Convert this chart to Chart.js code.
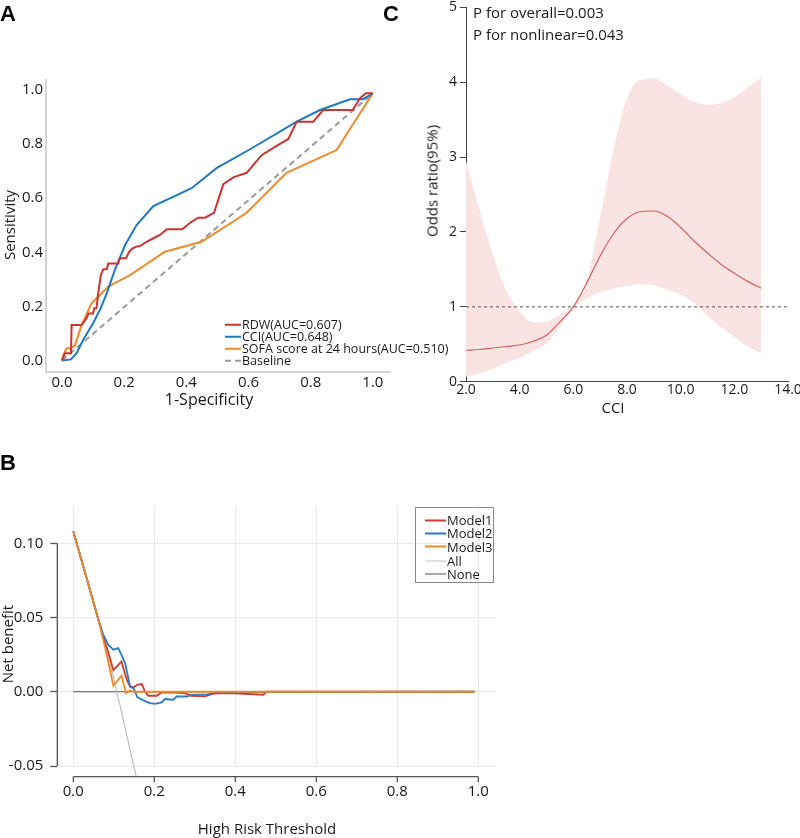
<!DOCTYPE html>
<html><head><meta charset="utf-8">
<script src="https://cdn.jsdelivr.net/npm/chart.js@4"></script>
<style>
html,body{margin:0;padding:0;background:#fff;}
body{width:800px;height:838px;overflow:hidden;position:relative;font-family:"Open Sans",sans-serif;color:#1a1a1a;}
canvas{position:absolute;}
.lbl{position:absolute;font:bold 22px "Liberation Sans",Arial,sans-serif;line-height:1;color:#000;}
.ct{position:absolute;white-space:nowrap;line-height:1;transform:translate(-50%,-50%);}
.cr{position:absolute;white-space:nowrap;line-height:1;transform:translate(-50%,-50%) rotate(-90deg);}
.lt{position:absolute;white-space:nowrap;line-height:1;transform:translate(0,-50%);}
.row{position:absolute;white-space:nowrap;line-height:1;transform:translate(0,-50%);display:flex;align-items:center;}
.row i{display:inline-block;height:0;margin-right:1px;}
#legB{position:absolute;left:415px;top:507px;width:79px;height:76px;border:1.5px solid #8a8a8a;box-sizing:border-box;}
</style></head><body>
<canvas id="cA" width="400" height="420" style="left:0;top:0"></canvas>
<canvas id="cC" width="420" height="424" style="left:390px;top:-4px"></canvas>
<canvas id="cB" width="520" height="398" style="left:0;top:440px"></canvas>

<div class="lbl" style="left:0;top:3px">A</div>
<div class="lbl" style="left:383px;top:3px">C</div>
<div class="lbl" style="left:0;top:452px">B</div>

<!-- Panel A titles and legend -->
<div class="cr" style="left:9px;top:225px;font-size:15px">Sensitivity</div>
<div class="ct" style="left:209px;top:398.5px;font-size:16px">1-Specificity</div>
<div class="row" style="left:225px;top:325px;font-size:12.5px"><i style="width:16px;border-top:2px solid #cc3430"></i>RDW(AUC=0.607)</div>
<div class="row" style="left:225px;top:337px;font-size:12.5px"><i style="width:16px;border-top:2px solid #2178c2"></i>CCI(AUC=0.648)</div>
<div class="row" style="left:225px;top:349px;font-size:12.5px"><i style="width:16px;border-top:2px solid #f0892a"></i>SOFA score at 24 hours(AUC=0.510)</div>
<div class="row" style="left:225px;top:361px;font-size:12.5px"><i style="width:16px;border-top:2px dashed #9a9a9a"></i>Baseline</div>

<!-- Panel C titles -->
<div class="lt" style="left:473px;top:11.6px;font-size:15px">P for overall=0.003</div>
<div class="lt" style="left:473px;top:34.2px;font-size:15px">P for nonlinear=0.043</div>
<div class="cr" style="left:432px;top:181px;font-size:15px">Odds ratio(95%)</div>
<div class="ct" style="left:613px;top:406.6px;font-size:15px">CCI</div>

<!-- Panel B titles and legend -->
<div class="cr" style="left:7px;top:644px;font-size:15px">Net benefit</div>
<div class="ct" style="left:267px;top:828px;font-size:15px">High Risk Threshold</div>
<div id="legB"></div>
<div class="row" style="left:425px;top:520px;font-size:13px"><i style="width:21px;border-top:2px solid #d03a35"></i>Model1</div>
<div class="row" style="left:425px;top:533.4px;font-size:13px"><i style="width:21px;border-top:2px solid #2a7bc3"></i>Model2</div>
<div class="row" style="left:425px;top:546.8px;font-size:13px"><i style="width:21px;border-top:2px solid #f0892a"></i>Model3</div>
<div class="row" style="left:425px;top:560.6px;font-size:13px"><i style="width:21px;border-top:1.5px solid #c8c8c8"></i>All</div>
<div class="row" style="left:425px;top:574.3px;font-size:13px"><i style="width:21px;border-top:1.5px solid #555"></i>None</div>

<script>
// ---------- Panel A: ROC ----------
const RDW_FPR = [0,0.01,0.029,0.031,0.063,0.079,0.085,0.10,0.104,0.111,0.117,0.125,0.133,0.144,0.149,0.181,0.186,0.206,0.216,0.227,0.24,0.251,0.272,0.294,0.315,0.337,0.387,0.412,0.438,0.46,0.489,0.519,0.551,0.594,0.642,0.685,0.728,0.755,0.808,0.84,0.935,0.958,0.977,1.0];
const RDW_TPR = [0,0.027,0.027,0.131,0.131,0.156,0.174,0.174,0.193,0.193,0.254,0.316,0.337,0.337,0.359,0.359,0.378,0.378,0.402,0.415,0.421,0.423,0.439,0.452,0.464,0.485,0.485,0.509,0.528,0.528,0.546,0.652,0.677,0.694,0.759,0.79,0.819,0.883,0.883,0.926,0.926,0.969,0.988,0.988];
const CCI_FPR = [0,0.029,0.047,0.068,0.10,0.122,0.144,0.17,0.203,0.24,0.294,0.417,0.497,0.605,0.755,0.83,0.926,0.969,1.0];
const CCI_TPR = [0,0.004,0.027,0.076,0.138,0.187,0.248,0.335,0.427,0.501,0.571,0.637,0.711,0.781,0.883,0.926,0.966,0.966,0.988];
const SOFA_FPR = [0,0.004,0.015,0.029,0.042,0.063,0.095,0.149,0.219,0.331,0.449,0.594,0.722,0.883,1.0];
const SOFA_TPR = [0,0.02,0.045,0.045,0.057,0.131,0.211,0.273,0.316,0.402,0.439,0.546,0.694,0.778,0.988];
const BASE_X = [0,1];
const BASE_Y = [0,0.988];
const A_TICKS = [0,0.2,0.4,0.6,0.8,1.0];

// ---------- Panel C: restricted cubic spline ----------
const CCI_X     = [2.0,2.5,3.0,3.5,4.0,4.5,5.0,5.5,6.0,6.5,7.0,7.5,8.0,8.5,9.0,9.5,10.0,10.5,11.0,11.5,12.0,12.5,13.0];
const CCI_OR    = [0.42,0.43,0.45,0.47,0.49,0.54,0.62,0.80,1.00,1.32,1.68,1.98,2.18,2.27,2.28,2.21,2.06,1.88,1.72,1.57,1.45,1.34,1.25];
const CCI_UPPER = [2.95,2.30,1.70,1.22,0.94,0.79,0.80,0.90,1.02,1.35,2.20,3.10,3.78,4.03,4.05,3.96,3.84,3.74,3.70,3.72,3.80,3.93,4.06];
const CCI_LOWER = [0.07,0.11,0.17,0.25,0.32,0.41,0.51,0.73,0.98,1.11,1.19,1.25,1.28,1.30,1.29,1.23,1.16,1.05,0.88,0.73,0.60,0.47,0.38];
const REF_X = [2,14];
const REF_Y = [1,1];
const C_X_TICKS = [2,4,6,8,10,12,14];

// ---------- Panel B: decision curve ----------
const M1_T  = [0,0.062,0.075,0.086,0.099,0.119,0.132,0.14,0.148,0.158,0.169,0.177,0.185,0.206,0.218,0.25,0.275,0.292,0.325,0.34,0.354,0.40,0.469,0.477,0.99];
const M1_NB = [0.108,0.0485,0.036,0.027,0.0145,0.0204,0.0081,0.0036,0.0029,0.0047,0.0052,0.0002,-0.0027,-0.0027,-0.0005,-0.0005,-0.0009,-0.0027,-0.0031,-0.0018,-0.0009,-0.0011,-0.002,0,0];
const M2_T  = [0,0.062,0.074,0.086,0.099,0.111,0.119,0.128,0.134,0.14,0.15,0.158,0.173,0.189,0.202,0.218,0.226,0.247,0.255,0.28,0.296,0.329,0.346,0.362,0.99];
const M2_NB = [0.108,0.0485,0.0384,0.0317,0.0283,0.0294,0.0249,0.0193,0.0115,0.0036,0.0018,-0.0036,-0.0058,-0.0076,-0.0081,-0.0072,-0.0049,-0.0054,-0.0032,-0.0032,-0.002,-0.002,-0.0009,-0.0003,0];
const M3_T  = [0,0.062,0.08,0.099,0.119,0.13,0.14,0.15,0.99];
const M3_NB = [0.108,0.0485,0.028,0.004,0.0108,-0.0009,0.0009,0,0];
const ALL_T  = [0,0.05,0.10,0.155];
const ALL_NB = [0.108,0.061,0.009,-0.0567];
const NONE_T  = [0,0.99];
const NONE_NB = [0,0];
const B_X_TICKS = [0,0.2,0.4,0.6,0.8,1.0];
const B_Y_TICKS = [-0.05,0,0.05,0.10];

const zip = (xs, ys) => xs.map((x, i) => ({x, y: ys[i]}));
const setTicks = arr => s => { s.ticks = arr.map(v => ({value: v})); };

Chart.defaults.font.family = "'Open Sans', sans-serif";
Chart.defaults.color = '#1a1a1a';
const common = {responsive:false, animation:false, events:[],
  plugins:{legend:{display:false}, tooltip:{enabled:false}}};

// Panel A
new Chart(document.getElementById('cA'), {
  type:'line',
  data:{datasets:[
    {data:zip(RDW_FPR,RDW_TPR), borderColor:'#cc3430', borderWidth:2, pointRadius:0, order:0},
    {data:zip(CCI_FPR,CCI_TPR), borderColor:'#2178c2', borderWidth:2, pointRadius:0, order:1},
    {data:zip(SOFA_FPR,SOFA_TPR), borderColor:'#f0892a', borderWidth:2, pointRadius:0, order:2},
    {data:zip(BASE_X,BASE_Y), borderColor:'#9a9a9a', borderDash:[6,4], borderWidth:2, pointRadius:0, order:3}
  ]},
  options:{...common,
    layout:{padding:{left:0,top:80,right:10,bottom:10}},
    scales:{
      x:{type:'linear', min:-0.0514, max:1.055, afterBuildTicks:setTicks(A_TICKS), afterFit:s=>{s.height=38;},
         grid:{display:false, drawTicks:false}, border:{display:true,color:'#d4d4d4',width:2},
         ticks:{font:{size:15}, padding:2, maxRotation:0, callback:v=>v.toFixed(1)}},
      y:{type:'linear', min:-0.0425, max:1.037, afterBuildTicks:setTicks(A_TICKS), afterFit:s=>{s.width=46;},
         grid:{display:false, drawTicks:false}, border:{display:true,color:'#d4d4d4',width:2},
         ticks:{font:{size:15}, padding:3, callback:v=>v.toFixed(1)}}
    }}
});

// Panel C
new Chart(document.getElementById('cC'), {
  type:'line',
  data:{datasets:[
    {data:zip(CCI_X,CCI_UPPER), borderWidth:0, borderColor:'rgba(0,0,0,0)', backgroundColor:'#f9e3e3', fill:'+1', pointRadius:0, cubicInterpolationMode:'monotone', order:3},
    {data:zip(CCI_X,CCI_LOWER), borderWidth:0, borderColor:'rgba(0,0,0,0)', fill:false, pointRadius:0, cubicInterpolationMode:'monotone', order:2},
    {data:zip(REF_X,REF_Y), borderColor:'#555', borderWidth:1, borderDash:[3,3], pointRadius:0, fill:false, order:1, clip:4},
    {data:zip(CCI_X,CCI_OR), borderColor:'#d2605a', borderWidth:1.2, pointRadius:0, fill:false, cubicInterpolationMode:'monotone', order:0}
  ]},
  options:{...common,
    layout:{padding:{left:0,top:9.7,right:22,bottom:0}},
    scales:{
      x:{type:'linear', min:2, max:14, afterBuildTicks:setTicks(C_X_TICKS), afterFit:s=>{s.height=38.3;},
         grid:{color:'rgba(0,0,0,0)', drawTicks:false}, border:{display:true,color:'#444',width:1},
         ticks:{font:{size:14}, padding:0, maxRotation:0, callback:v=>v.toFixed(1)}},
      y:{type:'linear', min:0, max:5, afterFit:s=>{s.width=76;},
         grid:{color:'rgba(0,0,0,0)', drawTicks:true, tickLength:6, tickColor:'#444', tickWidth:1},
         border:{display:true,color:'#444',width:1},
         ticks:{stepSize:1, font:{size:14}, padding:3, callback:v=>String(v)}}
    }}
});

// Panel B
const dcaAxes = {
  id:'dcaAxes',
  afterDraw(chart){
    const {ctx, chartArea:ca, scales:{x, y}} = chart;
    ctx.save();
    ctx.strokeStyle = '#555'; ctx.lineWidth = 1.3;
    ctx.beginPath();
    ctx.moveTo(ca.left, y.getPixelForValue(B_Y_TICKS[B_Y_TICKS.length-1]));
    ctx.lineTo(ca.left, y.getPixelForValue(B_Y_TICKS[0]));
    const ay = ca.bottom + 10.7;
    ctx.moveTo(x.getPixelForValue(B_X_TICKS[0]), ay);
    ctx.lineTo(x.getPixelForValue(B_X_TICKS[B_X_TICKS.length-1]), ay);
    B_X_TICKS.forEach(v => { const px = x.getPixelForValue(v); ctx.moveTo(px, ay); ctx.lineTo(px, ay + 5.6); });
    ctx.stroke();
    ctx.restore();
  }
};
new Chart(document.getElementById('cB'), {
  type:'line',
  data:{datasets:[
    {label:'Model1', data:zip(M1_T,M1_NB), borderColor:'#d03a35', borderWidth:1.8, pointRadius:0, order:2},
    {label:'Model2', data:zip(M2_T,M2_NB), borderColor:'#2a7bc3', borderWidth:1.8, pointRadius:0, order:1},
    {label:'Model3', data:zip(M3_T,M3_NB), borderColor:'#f0892a', borderWidth:1.8, pointRadius:0, order:0},
    {label:'All', data:zip(ALL_T,ALL_NB), borderColor:'#bdbdbd', borderWidth:1.2, pointRadius:0, order:3, clip:{left:0,top:0,right:0,bottom:11}},
    {label:'None', data:zip(NONE_T,NONE_NB), borderColor:'#555', borderWidth:1.2, pointRadius:0, order:4}
  ]},
  options:{...common,
    layout:{padding:{left:0,top:67,right:24,bottom:0}},
    scales:{
      x:{type:'linear', min:-0.0395, max:1.0437, afterBuildTicks:setTicks(B_X_TICKS), afterFit:s=>{s.height=72;},
         grid:{color:'#e9e9e9', drawTicks:false}, border:{display:false},
         ticks:{font:{size:15}, padding:17, maxRotation:0, callback:v=>v.toFixed(1)}},
      y:{type:'linear', min:-0.05, max:0.1244, afterBuildTicks:setTicks(B_Y_TICKS), afterFit:s=>{s.width=57.3;},
         grid:{color:'#e9e9e9', drawTicks:true, tickLength:7, tickColor:'#555', tickWidth:1.3}, border:{display:false},
         ticks:{font:{size:15}, padding:7, callback:v=>v.toFixed(2)}}
    }},
  plugins:[dcaAxes]
});
</script>
</body></html>
